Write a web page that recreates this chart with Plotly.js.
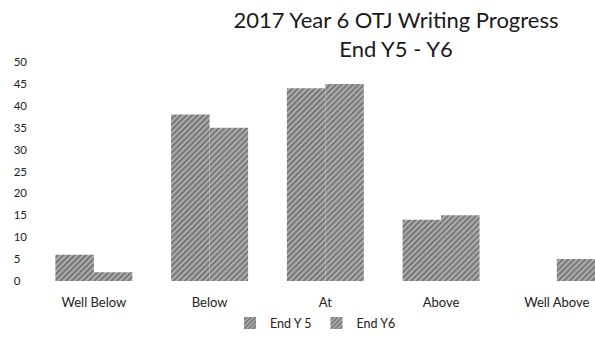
<!DOCTYPE html>
<html>
<head>
<meta charset="utf-8">
<script src="https://cdn.plot.ly/plotly-3.0.1.min.js"></script>
<style>
  html, body { margin: 0; padding: 0; background: #fff; }
  #chart { width: 595px; height: 349px; }
</style>
</head>
<body>
<div id="chart"></div>
<script>
// Pupil counts per attainment band, end of Year 5 vs end of Year 6
const categories = ["Well Below", "Below", "At", "Above", "Well Above"];
const endY5 = [6, 38, 44, 14, 0];
const endY6 = [2, 35, 45, 15, 5];
const seriesNames = ["End Y 5", "End Y6"];
const yTickValues = [0, 5, 10, 15, 20, 25, 30, 35, 40, 45, 50];
// single digits padded with a figure space so the labels line up on the left
const yTickText = yTickValues.map(v => v < 10 ? v + "\u2007" : String(v));

const font = "Lato, 'Open Sans', sans-serif";

function barTrace(name, values, fg) {
  return {
    type: "bar",
    name: name,
    x: categories,
    y: values,
    marker: {
      color: "#a0a0a0",
      line: { width: 0 },
      pattern: { shape: "/", fgcolor: fg, bgcolor: "#acacac", size: 4, solidity: 0.4 }
    },
    hoverinfo: "skip"
  };
}

const data = [
  barTrace(seriesNames[0], endY5, "#6a6a6a"),
  barTrace(seriesNames[1], endY6, "#6e6e6e")
];

const layout = {
  width: 595,
  height: 349,
  margin: { l: 36, r: 0, t: 61.5, b: 67.5 },
  paper_bgcolor: "#ffffff",
  plot_bgcolor: "#ffffff",
  font: { family: font, color: "#222222" },
  title: {
    text: "2017 Year 6 OTJ Writing Progress<br>End Y5 - Y6",
    font: { family: font, size: 22, color: "#1a1a1a" },
    xref: "container",
    x: 396 / 595,
    xanchor: "center",
    yref: "container",
    y: 1 - 28 / 349,
    yanchor: "top"
  },
  barmode: "group",
  bargap: 0.335,
  bargroupgap: 0,
  xaxis: {
    type: "category",
    range: [-0.5, 4.33],
    showline: false,
    showgrid: false,
    zeroline: false,
    ticks: "",
    ticklabelstandoff: 12,
    tickfont: { family: font, size: 13, color: "#222222" }
  },
  yaxis: {
    range: [0, 50],
    tickvals: yTickValues,
    ticktext: yTickText,
    showline: false,
    showgrid: false,
    zeroline: false,
    ticks: "",
    ticklabelstandoff: 8,
    tickfont: { family: font, size: 11.5, color: "#222222" }
  },
  showlegend: true,
  legend: {
    orientation: "h",
    xref: "paper",
    x: 0.5,
    xanchor: "center",
    y: -0.193,
    yanchor: "middle",
    font: { family: font, size: 12.5, color: "#222222" },
    itemwidth: 30,
    traceorder: "normal"
  }
};

Plotly.newPlot("chart", data, layout, { staticPlot: true, displayModeBar: false });
</script>
</body>
</html>
